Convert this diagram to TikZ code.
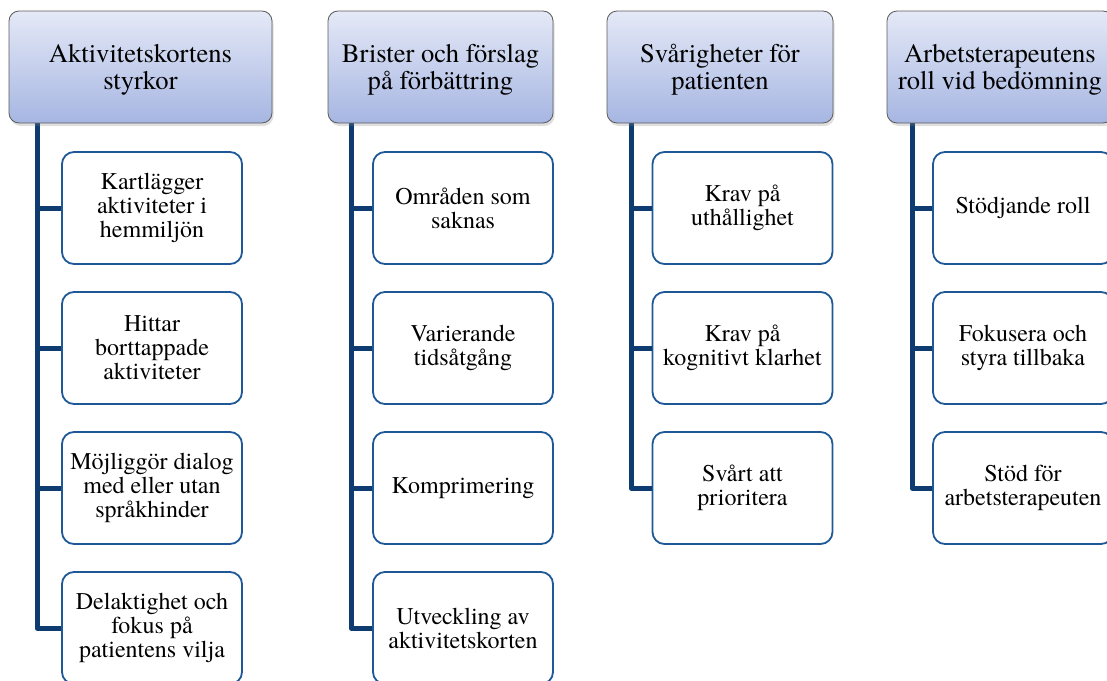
\documentclass[tikz,border=0pt]{standalone}
\usepackage{fontspec}
\setmainfont{TeX Gyre Termes}
\usetikzlibrary{shadows}
\definecolor{hdtop}{RGB}{229,233,247}
\definecolor{hdbot}{RGB}{166,182,226}
\definecolor{hdline}{RGB}{90,90,90}
\definecolor{kidline}{RGB}{30,88,150}
\definecolor{conncol}{RGB}{14,60,112}
\newcommand{\hdlift}{\rule{0pt}{24pt}}
\tikzset{
  hdbox/.style={draw=hdline, line width=0.8pt, rounded corners=10pt,
    top color=hdtop, bottom color=hdbot, minimum height=112pt,
    align=center, inner sep=2pt,
    font=\fontsize{26.6}{27}\selectfont,
    drop shadow={opacity=0.25, shadow xshift=1.5pt, shadow yshift=-3pt}},
  kidbox/.style={draw=kidline, line width=1.8pt, rounded corners=12pt, fill=white,
    minimum width=180pt, minimum height=112pt, align=center, inner sep=2pt,
    font=\fontsize{24}{24}\selectfont},
  conn/.style={draw=conncol, line width=5pt, line join=round}
}
\begin{document}
\begin{tikzpicture}[x=1pt,y=-1pt]
\useasboundingbox (0,0) rectangle (1107,680);
\clip (0,0) rectangle (1107,680);
% column trunk coordinates
\coordinate (v1) at (37,123);
\coordinate (v2) at (351,123);
\coordinate (v3) at (631,123);
\coordinate (v4) at (912,123);
% children
\node[kidbox] (c11) at (152,208) {Kartlägger\\aktiviteter i\\hemmiljön};
\node[kidbox] (c12) at (152,348) {Hittar\\borttappade\\aktiviteter};
\node[kidbox] (c13) at (152,488) {Möjliggör dialog\\med eller utan\\språkhinder};
\node[kidbox] (c14) at (152,628) {Delaktighet och\\fokus på\\patientens vilja};
\node[kidbox] (c21) at (463,208) {Områden som\\saknas};
\node[kidbox] (c22) at (463,348) {Varierande\\tidsåtgång};
\node[kidbox] (c23) at (463,488) {Komprimering};
\node[kidbox] (c24) at (463,628) {Utveckling av\\aktivitetskorten};
\node[kidbox] (c31) at (742.5,208) {Krav på\\uthållighet};
\node[kidbox] (c32) at (742.5,348) {Krav på\\kognitivt klarhet};
\node[kidbox] (c33) at (742.5,488) {Svårt att\\prioritera};
\node[kidbox] (c41) at (1023,208) {Stödjande roll};
\node[kidbox] (c42) at (1023,348) {Fokusera och\\styra tillbaka};
\node[kidbox] (c43) at (1023,488) {Stöd för\\arbetsterapeuten};
% connectors
\draw[conn] (v1) |- (c14.west);
\draw[conn] (v1 |- c11.west) -- (c11.west);
\draw[conn] (v1 |- c12.west) -- (c12.west);
\draw[conn] (v1 |- c13.west) -- (c13.west);
\draw[conn] (v2) |- (c24.west);
\draw[conn] (v2 |- c21.west) -- (c21.west);
\draw[conn] (v2 |- c22.west) -- (c22.west);
\draw[conn] (v2 |- c23.west) -- (c23.west);
\draw[conn] (v3) |- (c33.west);
\draw[conn] (v3 |- c31.west) -- (c31.west);
\draw[conn] (v3 |- c32.west) -- (c32.west);
\draw[conn] (v4) |- (c43.west);
\draw[conn] (v4 |- c41.west) -- (c41.west);
\draw[conn] (v4 |- c42.west) -- (c42.west);
% headers
\node[hdbox, minimum width=263pt] (h1) at (140.5,67) {\hdlift Aktivitetskortens\\styrkor};
\node[hdbox, minimum width=225pt] (h2) at (440.5,67) {\hdlift Brister och förslag\\på förbättring};
\node[hdbox, minimum width=226pt] (h3) at (720,67) {\hdlift Svårigheter för\\patienten};
\node[hdbox, minimum width=226pt] (h4) at (1000,67) {\hdlift Arbetsterapeutens\\roll vid bedömning};
\end{tikzpicture}
\end{document}
